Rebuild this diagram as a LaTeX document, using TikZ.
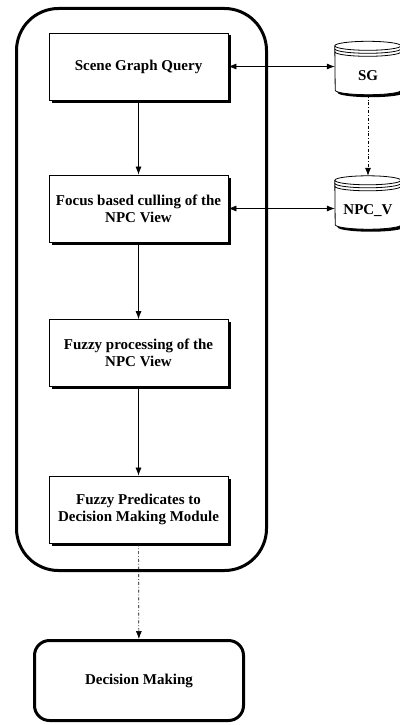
\documentclass[tikz,border=0pt]{standalone}
\usepackage{fontspec}
\setmainfont{Liberation Serif}
\usetikzlibrary{arrows.meta,shadows,backgrounds}

\begin{document}
\begin{tikzpicture}[x=1pt,y=1pt,>={Latex[length=8pt,width=6pt]},
  stage box/.style={draw,line width=0.8pt,fill=white,minimum width=179pt,minimum height=67pt,
    align=center,inner sep=0pt,font=\bfseries\fontsize{15}{17}\selectfont,
    drop shadow={shadow xshift=2.5pt,shadow yshift=-2.5pt,fill=black,opacity=1}},
  db node/.style={minimum width=66pt,minimum height=53pt,inner sep=0pt,text height=24pt,text depth=0pt,
    font=\bfseries\fontsize{15}{17}\selectfont},
  db body/.style={draw,line width=0.8pt,fill=white,preaction={fill=black,transform canvas={shift={(2.5pt,-2.5pt)}}}},
  flow/.style={line width=0.7pt}]
  \useasboundingbox (0,0) rectangle (399,-725);

  % container round the four stages
  \node[draw,line width=3pt,rounded corners=42pt,minimum width=250pt,minimum height=562pt] (frame) at (141.5,-289.5) {};

  \node[stage box] (query) at (138.5,-66.5) {Scene Graph Query};
  \node[stage box] (cull) at (138.5,-208.5) {Focus based culling of the\\NPC View};
  \node[stage box] (fuzzy) at (138.5,-353) {Fuzzy processing of the\\NPC View};
  \node[stage box] (pred) at (138.5,-509.5) {Fuzzy Predicates to\\Decision Making Module};
  \node[draw,line width=3pt,rounded corners=15pt,minimum width=209pt,minimum height=80pt,
    font=\bfseries\fontsize{15}{17}\selectfont] (decide) at (139,-680.5) {Decision Making};

  \node[db node] (sg) at (368,-68) {SG};
  \node[db node] (npcv) at (368,-202.5) {NPC\_V};

  % database drums
  \begin{scope}[on background layer]
  \draw[db body] ([yshift=-4.5pt]sg.north west) arc[start angle=180,end angle=0,x radius=33pt,y radius=4.5pt]
    -- ([yshift=4.5pt]sg.south east) arc[start angle=0,end angle=-180,x radius=33pt,y radius=4.5pt] -- cycle;
  \draw[db body] ([yshift=-4.5pt]npcv.north west) arc[start angle=180,end angle=0,x radius=33pt,y radius=4.5pt]
    -- ([yshift=4.5pt]npcv.south east) arc[start angle=0,end angle=-180,x radius=33pt,y radius=4.5pt] -- cycle;
  \end{scope}
  \draw[line width=0.8pt] ([yshift=-4.5pt]sg.north west) arc[start angle=180,end angle=360,x radius=33pt,y radius=4.5pt];
  \draw[line width=0.8pt] ([yshift=-7.5pt]sg.north west) arc[start angle=180,end angle=360,x radius=33pt,y radius=4.5pt];
  \draw[line width=0.8pt] ([yshift=-10.5pt]sg.north west) arc[start angle=180,end angle=360,x radius=33pt,y radius=4.5pt];
  \draw[line width=0.8pt] ([yshift=-4.5pt]npcv.north west) arc[start angle=180,end angle=360,x radius=33pt,y radius=4.5pt];
  \draw[line width=0.8pt] ([yshift=-7.5pt]npcv.north west) arc[start angle=180,end angle=360,x radius=33pt,y radius=4.5pt];
  \draw[line width=0.8pt] ([yshift=-10.5pt]npcv.north west) arc[start angle=180,end angle=360,x radius=33pt,y radius=4.5pt];

  \path[] (query) [->,flow] edge (cull);
  \path[] (cull) [->,flow] edge (fuzzy);
  \path[] (fuzzy) [->,flow] edge (pred);
  \path[] (pred) [->,flow,dash dot] edge (decide);
  \path[] (sg) [->,flow,dash dot] edge (npcv);
  \draw[<->,flow] (query.east) -- (query.east -| sg.west);
  \draw[<->,flow] (cull.east) -- (cull.east -| npcv.west);
\end{tikzpicture}
\end{document}
